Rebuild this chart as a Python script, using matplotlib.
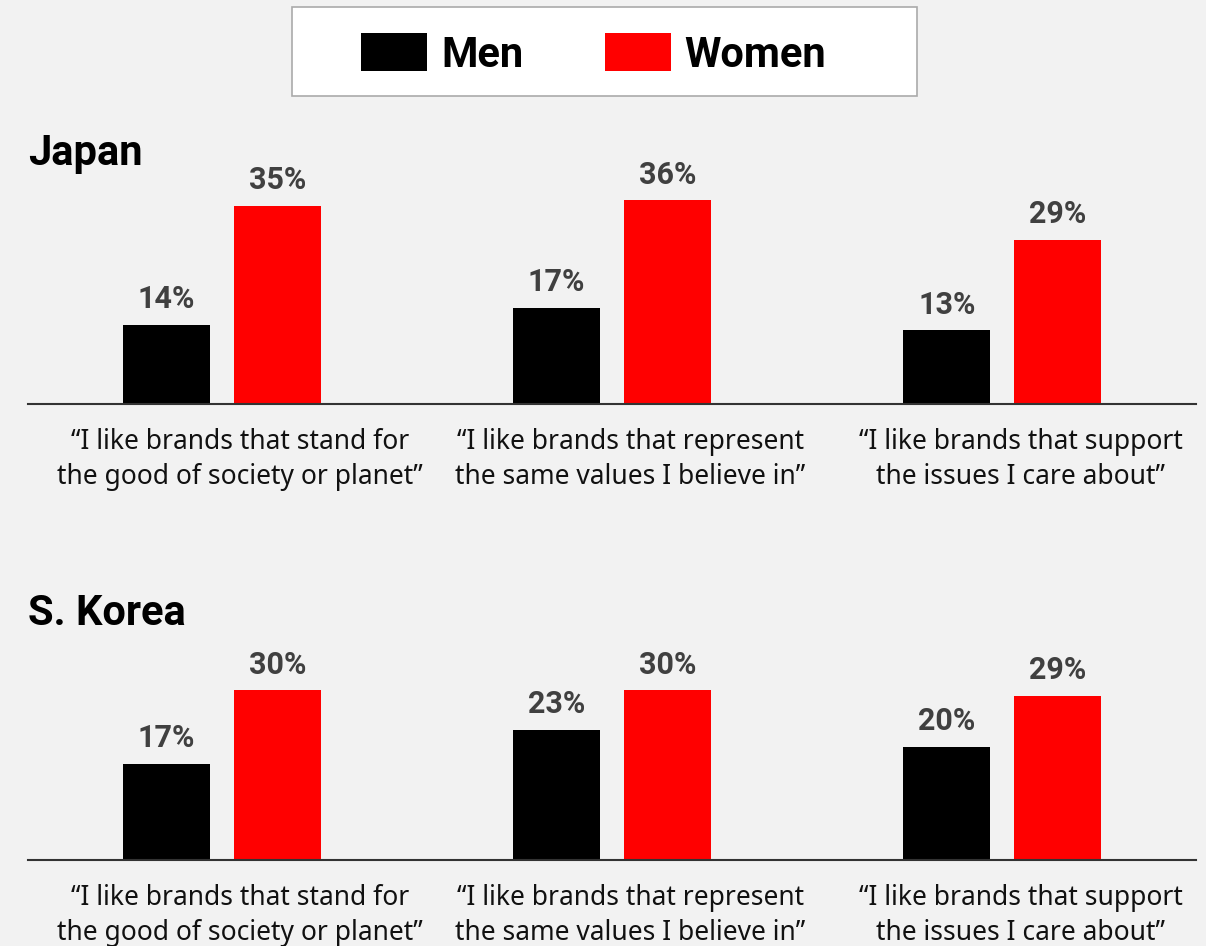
import matplotlib
matplotlib.use("Agg")
import matplotlib.pyplot as plt
from matplotlib.patches import Rectangle
import numpy as np

# ---- data ----
statements = [
    "\u201cI like brands that stand for\nthe good of society or planet\u201d",
    "\u201cI like brands that represent\nthe same values I believe in\u201d",
    "\u201cI like brands that support\nthe issues I care about\u201d",
]
series_names = ["Men", "Women"]
japan_men = [14, 17, 13]
japan_women = [35, 36, 29]
korea_men = [17, 23, 20]
korea_women = [30, 30, 29]
countries = ["Japan", "S. Korea"]

# ---- style ----
W, H = 1206, 946
BG = "#f2f2f2"
MEN_C = "#000000"
WOMEN_C = "#ff0000"
VALUE_C = "#404040"
BOLD_FONT = "Roboto"
BODY_FONT = "Noto Sans"

fig = plt.figure(figsize=(W / 100, H / 100), dpi=100, facecolor=BG)


def fx(px):
    return px / W


def fy(py):
    return 1 - py / H


PX_PER_PCT = 5.66
YMAX = 40
axes_height_px = YMAX * PX_PER_PCT


def draw_panel(baseline_px, title_baseline_px, title, men, women):
    ax = fig.add_axes([fx(28), fy(baseline_px), 1168 / W, axes_height_px / H])
    ax.set_facecolor("none")
    x = np.arange(len(statements))
    width = 0.223
    off = 0.142
    ax.bar(x - off, men, width, color=MEN_C, zorder=2)
    ax.bar(x + off, women, width, color=WOMEN_C, zorder=2)
    for xs, vals in ((x - off, men), (x + off, women)):
        for xi, v in zip(xs, vals):
            ax.annotate(f"{v}%", (xi, v), xytext=(0, 12), textcoords="offset points",
                        ha="center", va="baseline", fontsize=22, fontweight="bold",
                        family=BOLD_FONT, color=VALUE_C, annotation_clip=False)
    ax.set_xlim(-0.497, 2.497)
    ax.set_ylim(0, YMAX)
    for s in ("top", "right", "left"):
        ax.spines[s].set_visible(False)
    ax.spines["bottom"].set_color("#333333")
    ax.spines["bottom"].set_linewidth(1.5)
    ax.spines["bottom"].set_zorder(3)
    ax.set_yticks([])
    # statement captions sit slightly right of each bar pair
    ax.set_xticks(x + 0.047)
    ax.set_xticklabels(statements, fontsize=19, family=BODY_FONT, color="#111111",
                       linespacing=1.32)
    ax.tick_params(axis="x", length=0, pad=17.5)
    fig.text(fx(28), fy(title_baseline_px), title, fontsize=30, fontweight="bold",
             family=BOLD_FONT, color="black", ha="left", va="baseline")
    return ax


draw_panel(404, 165, countries[0], japan_men, japan_women)
draw_panel(860, 625, countries[1], korea_men, korea_women)

# ---- legend box ----
fig.patches.append(Rectangle((fx(292), fy(96)), (917 - 292) / W, (96 - 7) / H,
                             transform=fig.transFigure, facecolor="white",
                             edgecolor="#aaaaaa", linewidth=1.2))
legend_items = [(series_names[0], MEN_C, 361, 441), (series_names[1], WOMEN_C, 605, 684)]
for name, col, px0, tx in legend_items:
    fig.patches.append(Rectangle((fx(px0), fy(71)), 66 / W, 38 / H,
                                 transform=fig.transFigure, facecolor=col, edgecolor="none"))
    fig.text(fx(tx), fy(67), name, fontsize=30, fontweight="bold", family=BOLD_FONT,
             color="black", ha="left", va="baseline")

fig.savefig("out.png", dpi=100, facecolor=BG)
